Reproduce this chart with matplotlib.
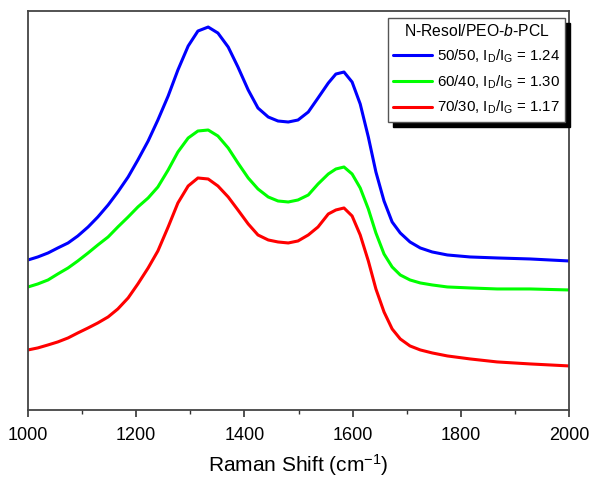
import matplotlib
matplotlib.use('Agg')
import matplotlib.pyplot as plt
from matplotlib.ticker import MultipleLocator

plt.rcParams['font.family'] = ['Liberation Sans', 'DejaVu Sans']
plt.rcParams['mathtext.fontset'] = 'custom'
plt.rcParams['mathtext.rm'] = 'Liberation Sans'
plt.rcParams['mathtext.it'] = 'Liberation Sans:italic'

# Raman shift (cm-1)
raman_shift = [1000, 1018, 1037, 1055, 1074, 1092, 1111, 1129, 1148, 1166,
               1185, 1203, 1222, 1240, 1259, 1277, 1296, 1314, 1333, 1351,
               1370, 1388, 1407, 1425, 1444, 1462, 1481, 1499, 1518, 1536,
               1555, 1569, 1584, 1599, 1614, 1629, 1643, 1658, 1673, 1688,
               1706, 1725, 1747, 1775, 1817, 1867, 1928, 2000]

# intensidades (unidades arbitrarias, con desplazamiento)
int_50_50 = [150, 153, 157, 162, 167, 174, 183, 193, 205, 218,
             233, 250, 269, 290, 314, 340, 364, 379, 383, 377,
             363, 343, 320, 302, 293, 289, 288, 290, 298, 312,
             327, 336, 338, 328, 306, 273, 238, 209, 188, 177,
             168, 162, 158, 155, 153, 152, 151, 149]
int_60_40 = [123, 126, 130, 136, 142, 149, 157, 165, 173, 183,
             193, 203, 212, 223, 240, 258, 272, 279, 280, 274,
             262, 247, 232, 221, 213, 209, 208, 210, 215, 226,
             236, 241, 243, 236, 222, 201, 177, 156, 143, 135,
             130, 127, 125, 123, 122, 121, 121, 120]
int_70_30 = [60, 62, 65, 68, 72, 77, 82, 87, 93, 101,
             112, 126, 142, 159, 183, 207, 224, 232, 231, 224,
             213, 200, 186, 175, 170, 168, 167, 169, 175, 183,
             196, 200, 202, 194, 175, 149, 121, 98, 81, 71,
             64, 60, 57, 54, 51, 48, 46, 44]

etiquetas = ['50/50, I$_\\mathrm{D}$/I$_\\mathrm{G}$ = 1.24',
             '60/40, I$_\\mathrm{D}$/I$_\\mathrm{G}$ = 1.30',
             '70/30, I$_\\mathrm{D}$/I$_\\mathrm{G}$ = 1.17']
colores = ['#0000ff', '#00ff00', '#ff0000']

fig = plt.figure(figsize=(5.9, 4.8), dpi=100)
ax = fig.add_axes([0.0475, 0.146, 0.917, 0.831])

for datos, lab, c in zip([int_50_50, int_60_40, int_70_30], etiquetas, colores):
    ax.plot(raman_shift, datos, color=c, lw=2.2, label=lab,
            solid_joinstyle='round', solid_capstyle='round')

ax.set_xlim(1000, 2000)
ax.set_ylim(0, 399)
ax.xaxis.set_major_locator(MultipleLocator(200))
ax.xaxis.set_minor_locator(MultipleLocator(100))
ax.tick_params(axis='x', which='major', direction='out', length=5, width=1.2,
               labelsize=13, colors='#333333', labelcolor='black', pad=7)
ax.tick_params(axis='x', which='minor', direction='out', length=3, width=1.0,
               colors='#333333')
ax.set_yticks([])
for s in ax.spines.values():
    s.set_color('#444444')
    s.set_linewidth(1.3)

ax.set_xlabel('Raman Shift (cm$^{-1}$)', fontsize=15, labelpad=6)

# leyenda con sombra negra
leg = ax.legend(loc='upper right', bbox_to_anchor=(0.9926, 0.982), borderaxespad=0,
                title='N-Resol/PEO-$\\mathit{b}$-PCL', title_fontsize=11.3,
                fontsize=10.8, fancybox=False, edgecolor='#555555', framealpha=1,
                handlelength=2.6, handletextpad=0.3, labelspacing=0.55,
                borderpad=0.35,
                shadow={'ox': 3.6, 'oy': -3.6, 'color': 'black', 'alpha': 1})
leg.get_frame().set_linewidth(1.0)

fig.savefig('out.png', dpi=100)
